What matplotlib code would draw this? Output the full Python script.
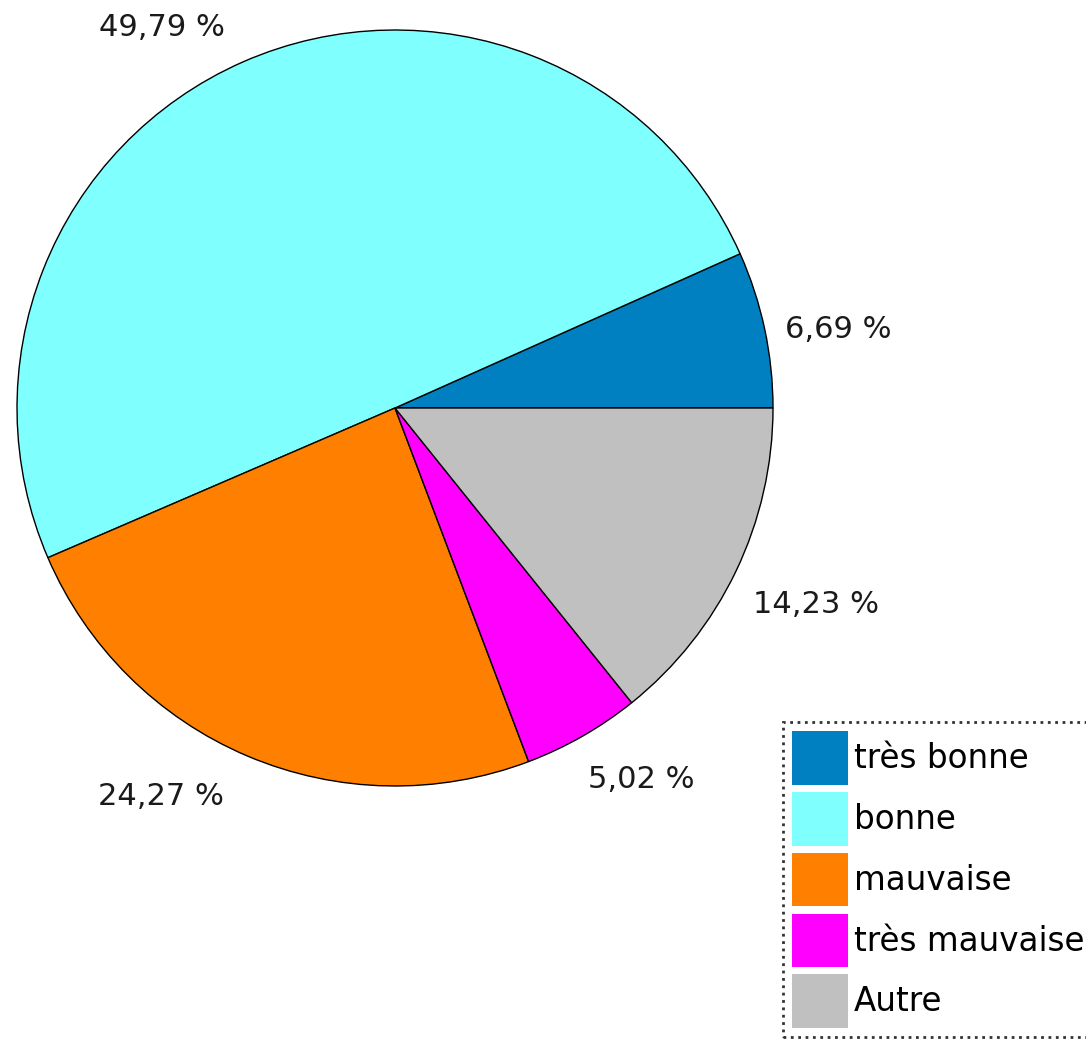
import matplotlib
matplotlib.use('Agg')
import matplotlib.pyplot as plt
from matplotlib.patches import Patch
import numpy as np

# data
categories = ['très bonne', 'bonne', 'mauvaise', 'très mauvaise', 'Autre']
shares = [6.69, 49.79, 24.27, 5.02, 14.23]
colors = ['#0080C0', '#80FFFF', '#FF8000', '#FF00FF', '#C0C0C0']

# label placement around the pie (degrees, radius in pie units)
label_angles = [10, 121.5, 239, -56.5, -25]
label_radius = [1.19, 1.18, 1.20, 1.18, 1.23]

fig = plt.figure(figsize=(10.86, 10.40), dpi=100)
ax = fig.add_axes([17 / 1086, 1 - 786 / 1040, 756 / 1086, 756 / 1040])

wedges, _ = ax.pie(shares, colors=colors, startangle=0, counterclock=True,
                   radius=1, wedgeprops={'edgecolor': 'black', 'linewidth': 1})
ax.set_xlim(-1, 1)
ax.set_ylim(-1, 1)
ax.set_aspect('equal')
ax.axis('off')

# percentage labels
for val, ang, r in zip(shares, label_angles, label_radius):
    a = np.deg2rad(ang)
    txt = f"{val:.2f} %".replace('.', ',')
    ax.text(r * np.cos(a), r * np.sin(a), txt, ha='center', va='center',
            fontsize=22, color='#1a1a1a', clip_on=False)

# legend
handles = [Patch(facecolor=c, edgecolor='none') for c in colors]
leg = fig.legend(handles, categories, loc='upper left',
                 bbox_to_anchor=(783 / 1086, 1 - 722 / 1040),
                 fontsize=23.5, frameon=True, fancybox=False,
                 handlelength=1.7, handleheight=2.15, labelspacing=0.22,
                 handletextpad=0.2, borderpad=0.28, borderaxespad=0)
leg.get_frame().set_edgecolor('black')
leg.get_frame().set_linestyle(':')
leg.get_frame().set_linewidth(2)

fig.savefig('out.png', dpi=100)
